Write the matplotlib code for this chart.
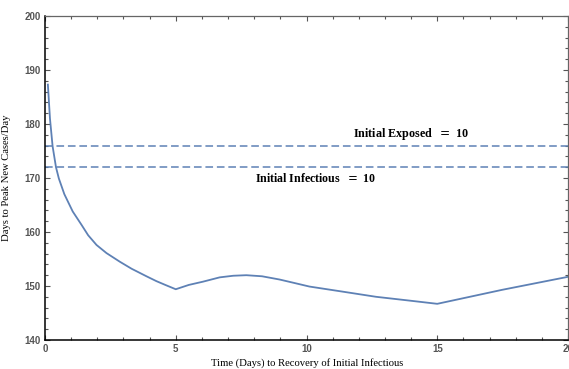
import numpy as np
import matplotlib.pyplot as plt
from matplotlib.ticker import MultipleLocator

# days until recovery of the first infectious case
recovery_days = [0.11, 0.19, 0.29, 0.42, 0.53, 0.74, 1.06, 1.40, 1.65, 1.97,
                 2.35, 2.86, 3.31, 3.88, 4.26, 4.6, 5.0, 5.5, 6.04, 6.68,
                 7.2, 7.70, 8.3, 8.97, 9.5, 10.11, 11.39, 12.66, 13.93, 15.0,
                 17.49, 20.0]
# days until the peak of new cases per day
peak_days = [187.3, 181.0, 175.9, 172.0, 169.9, 167.0, 163.8, 161.3, 159.4, 157.6,
             156.1, 154.5, 153.2, 151.8, 150.9, 150.2, 149.4, 150.2, 150.8, 151.6,
             151.9, 152.0, 151.8, 151.2, 150.6, 149.9, 148.95, 148.0, 147.3, 146.7,
             149.3, 151.7]

exposed_ref = 176
infectious_ref = 172

line_col = '#5E81B5'

fig = plt.figure(figsize=(5.69, 3.69), dpi=100)
ax = fig.add_axes([45 / 569, 1 - 340 / 369, 523 / 569, 324 / 369])

ax.plot(recovery_days, peak_days, color=line_col, lw=1.3)
ax.axhline(exposed_ref, color=line_col, lw=1.1, ls=(0, (5, 2.5)))
ax.axhline(infectious_ref, color=line_col, lw=1.1, ls=(0, (5, 2.5)))

ax.text(14.0, 178.1, 'Initial Exposed  $=$ 10', family='Liberation Serif',
        fontweight='bold', fontsize=8.7, ha='center', va='center')
ax.text(10.35, 169.9, 'Initial Infectious  $=$ 10', family='Liberation Serif',
        fontweight='bold', fontsize=8.6, ha='center', va='center')

ax.set_xlim(0, 20)
ax.set_ylim(140, 200)
ax.xaxis.set_major_locator(MultipleLocator(5))
ax.xaxis.set_minor_locator(MultipleLocator(1))
ax.yaxis.set_major_locator(MultipleLocator(10))
ax.yaxis.set_minor_locator(MultipleLocator(2))

ax.tick_params(which='both', direction='in', top=True, right=True,
               color='#555555', labelcolor='#555555', width=0.8)
ax.tick_params(which='major', length=3.5, labelsize=7, pad=3)
ax.tick_params(which='minor', length=2)
for lab in ax.get_xticklabels() + ax.get_yticklabels():
    lab.set_fontweight('bold')
    lab.set_family('Liberation Sans')

for side in ['left', 'bottom']:
    ax.spines[side].set_color('black')
    ax.spines[side].set_linewidth(1.1)
for side in ['top', 'right']:
    ax.spines[side].set_color('#666666')
    ax.spines[side].set_linewidth(0.9)

fig.text(307 / 569, 1 - 363.5 / 369, 'Time (Days) to Recovery of Initial Infectious',
         family='Liberation Serif', fontsize=7.7, ha='center', va='center')
ax.set_ylabel('Days to Peak New Cases/Day', family='Liberation Serif',
              fontsize=7.7, labelpad=10)

fig.savefig('out.png', dpi=100)
